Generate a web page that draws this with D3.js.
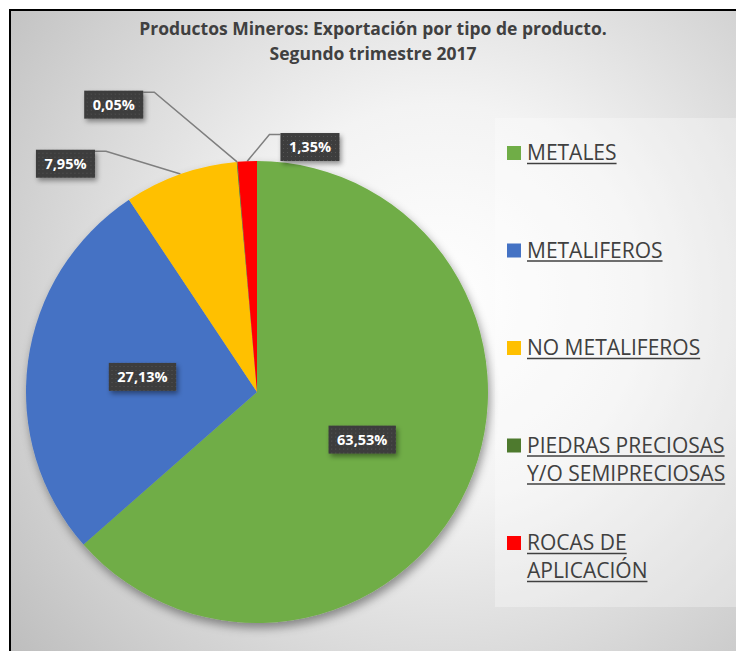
<!DOCTYPE html>
<html>
<head>
<meta charset="utf-8">
<script src="https://cdn.jsdelivr.net/npm/d3@7"></script>
<style>
  html, body { margin: 0; padding: 0; background: #fff; }
  svg { display: block; }
</style>
</head>
<body>
<script>
// datos del grafico
var categories = ["METALES", "METALIFEROS", "NO METALIFEROS", "PIEDRAS PRECIOSAS Y/O SEMIPRECIOSAS", "ROCAS DE APLICACIÓN"];
var values = [63.53, 27.13, 7.95, 0.05, 1.35];
var valueLabels = ["63,53%", "27,13%", "7,95%", "0,05%", "1,35%"];
var legendLines = [["METALES"], ["METALIFEROS"], ["NO METALIFEROS"], ["PIEDRAS PRECIOSAS", "Y/O SEMIPRECIOSAS"], ["ROCAS DE", "APLICACIÓN"]];
var colors = ["#70AD47", "#4472C4", "#FFC000", "#4E7A2E", "#FF0000"];

var width = 736, height = 651,
    cx = 257, cy = 392, radius = 231;

// posicion de etiquetas fuera del pastel (angulo en grados, distancia relativa al radio), null = dentro
var outerLabel = [null, null, {a: 320, d: 1.29}, {a: 333.5, d: 1.39}, {a: 12.2, d: 1.085}];

var svg = d3.select("body").append("svg")
    .attr("width", width)
    .attr("height", height);

var defs = svg.append("defs");

var bg = defs.append("radialGradient")
    .attr("id", "bg")
    .attr("gradientUnits", "userSpaceOnUse")
    .attr("cx", 440).attr("cy", 300).attr("r", 560);
bg.append("stop").attr("offset", "0%").attr("stop-color", "#ffffff");
bg.append("stop").attr("offset", "35%").attr("stop-color", "#f3f3f3");
bg.append("stop").attr("offset", "100%").attr("stop-color", "#bdbdbd");

var shadow = defs.append("filter").attr("id", "shadow")
    .attr("x", "-20%").attr("y", "-20%").attr("width", "140%").attr("height", "140%");
shadow.append("feDropShadow")
    .attr("dx", 2).attr("dy", 5).attr("stdDeviation", 5)
    .attr("flood-color", "#000").attr("flood-opacity", 0.4);

var boxShadow = defs.append("filter").attr("id", "boxShadow")
    .attr("x", "-30%").attr("y", "-30%").attr("width", "160%").attr("height", "170%");
boxShadow.append("feDropShadow")
    .attr("dx", 2).attr("dy", 3).attr("stdDeviation", 2.5)
    .attr("flood-color", "#000").attr("flood-opacity", 0.4);

var dots = defs.append("pattern").attr("id", "dots")
    .attr("patternUnits", "userSpaceOnUse")
    .attr("width", 4).attr("height", 4);
dots.append("rect").attr("width", 4).attr("height", 4).attr("fill", "#3d3d3d");
dots.append("rect").attr("x", 1).attr("y", 1).attr("width", 1).attr("height", 1).attr("fill", "#555");

// fondo y borde
svg.append("rect")
    .attr("x", 10).attr("y", 10)
    .attr("width", width + 20).attr("height", height + 20)
    .attr("fill", "url(#bg)")
    .attr("stroke", "#000")
    .attr("stroke-width", 2);

// titulo
var title = svg.append("text")
    .attr("text-anchor", "middle")
    .attr("font-family", "'Open Sans', sans-serif")
    .attr("font-weight", "bold")
    .attr("font-size", 17.5)
    .attr("fill", "#404040");
title.append("tspan").attr("x", 373).attr("y", 35).text("Productos Mineros: Exportación por tipo de producto.");
title.append("tspan").attr("x", 373).attr("y", 60).text("Segundo trimestre 2017");

// pastel
var pie = d3.pie().sort(null).value(function(d) { return d; });
var arcs = pie(values);
var arc = d3.arc().innerRadius(0).outerRadius(radius);

var g = svg.append("g").attr("transform", "translate(" + cx + "," + cy + ")");

g.append("g")
    .attr("filter", "url(#shadow)")
    .selectAll("path")
    .data(arcs)
    .enter().append("path")
    .attr("d", arc)
    .attr("fill", function(d, i) { return colors[i]; });

// etiquetas de datos
function polar(angleDeg, r) {
    var a = angleDeg * Math.PI / 180;
    return [r * Math.sin(a), -r * Math.cos(a)];
}

arcs.forEach(function(d, i) {
    var pos, ol = outerLabel[i];
    if (ol) pos = polar(ol.a, ol.d * radius);
    else pos = arc.centroid(d);

    var lab = g.append("g").attr("transform", "translate(" + pos[0] + "," + pos[1] + ")");
    var t = lab.append("text")
        .attr("text-anchor", "middle")
        .attr("dy", "0.36em")
        .attr("font-family", "'Open Sans', sans-serif")
        .attr("font-weight", "bold")
        .attr("font-size", 14.5)
        .attr("fill", "#fff")
        .text(valueLabels[i]);
    var w = t.node().getComputedTextLength() + 17, h = 28;
    lab.insert("rect", "text")
        .attr("x", -w / 2).attr("y", -h / 2)
        .attr("width", w).attr("height", h)
        .attr("fill", "url(#dots)")
        .attr("filter", "url(#boxShadow)");

    if (ol) {
        var mid = (d.startAngle + d.endAngle) / 2 * 180 / Math.PI;
        var p0 = polar(mid, radius);
        var onRight = pos[0] > p0[0];
        var edgeX = onRight ? pos[0] - w / 2 : pos[0] + w / 2;
        var ly = pos[1] - h / 2 + 1.5;
        var elbowX = onRight ? edgeX - 11 : edgeX + 11;
        g.insert("path", "g")
            .attr("d", d3.line()([p0, [elbowX, ly], [edgeX, ly]]))
            .attr("fill", "none")
            .attr("stroke", "#7f7f7f")
            .attr("stroke-width", 1.5);
    }
});

// leyenda
svg.append("rect")
    .attr("x", 495).attr("y", 118)
    .attr("width", 245).attr("height", 489)
    .attr("fill", "#fff").attr("opacity", 0.3);

var legendY = d3.scalePoint().domain(categories).range([160, 550]);

var legend = svg.selectAll(".legend")
    .data(categories)
    .enter().append("g")
    .attr("class", "legend")
    .attr("transform", function(d) { return "translate(507," + legendY(d) + ")"; });

legend.append("rect")
    .attr("x", 0).attr("y", -14)
    .attr("width", 14).attr("height", 14)
    .attr("fill", function(d, i) { return colors[i]; });

legend.each(function(d, i) {
    var el = d3.select(this);
    legendLines[i].forEach(function(line, k) {
        var t = el.append("text")
            .attr("x", 20).attr("y", k * 28)
            .attr("font-family", "'Open Sans', sans-serif")
            .attr("font-size", 21)
            .attr("fill", "#404040")
            .text(line);
        var len = t.node().getComputedTextLength();
        el.append("line")
            .attr("x1", 20).attr("x2", 20 + len)
            .attr("y1", k * 28 + 3.5).attr("y2", k * 28 + 3.5)
            .attr("stroke", "#404040")
            .attr("stroke-width", 1.5);
    });
});
</script>
</body>
</html>
